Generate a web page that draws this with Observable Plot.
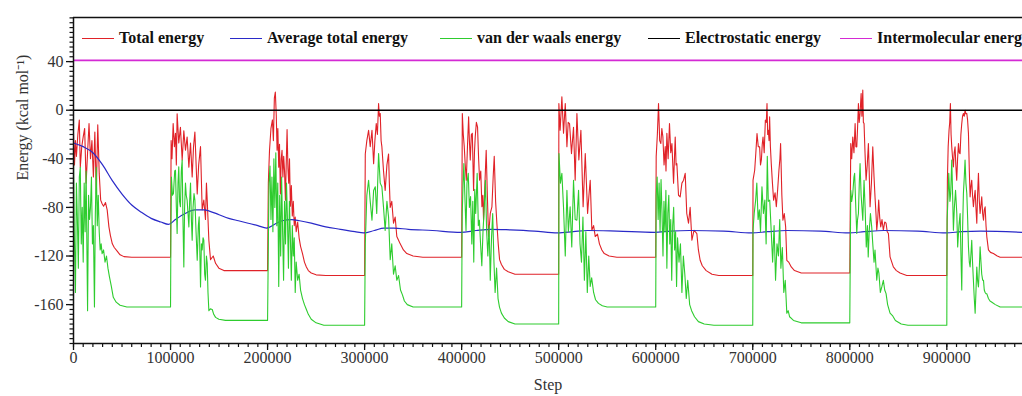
<!DOCTYPE html>
<html>
<head>
<meta charset="utf-8">
<script src="https://cdn.jsdelivr.net/npm/d3@7"></script>
<script src="https://cdn.jsdelivr.net/npm/@observablehq/plot@0.6"></script>
<style>
  html, body { margin: 0; padding: 0; background: #fff; overflow: hidden; }
  #wrap { position: relative; width: 1022px; height: 396px; overflow: hidden; }
  #legend { position: absolute; top: 0; left: 0; width: 1022px; height: 60px; pointer-events: none; }
  .item { position: absolute; top: 29px; display: flex; align-items: center; white-space: nowrap;
          font-family: "Liberation Serif", "Times New Roman", serif; font-weight: bold; font-size: 16px; color: #111; height: 18px; }
  .sw { display: inline-block; width: 32px; height: 0; border-top: 1.5px solid; margin-right: 5px; }
</style>
</head>
<body>
<div id="wrap"><div id="legend"></div></div>
<script>
// ---- Data ----
const seriesNames = ["Total energy", "Average total energy", "van der waals energy", "Electrostatic energy", "Intermolecular energy"];
const seriesColors = ["#e02228", "#2a2ac8", "#2ecc2e", "#000000", "#d42ad4"];

const xTicks = [0, 100000, 200000, 300000, 400000, 500000, 600000, 700000, 800000, 900000];
const yTicks = [-160, -120, -80, -40, 0, 40];
const xDomain = [0, 978000];
const yDomain = [-192, 76.3];

// [step, kcal/mol]
const totalEnergy = [
  [0,-19],[1000,-45],[2000,-25],[3000,-38],[4500,-20],[6000,-8],[7000,-47],[8500,-30],[10000,-22],[11500,-15],[13000,-60],[14500,-35],[16000,-11],[17500,-40],[19000,-25],[20500,-55],[22000,-18],[23500,-69],[25000,-12],[26500,-52],[28000,-74],[29500,-77],[31000,-79],[33000,-76],[34700,-82],[36500,-96],[38000,-103],[40000,-110],[42000,-113],[45000,-116],[48000,-119],[52000,-120.5],[60000,-121],[99500,-121],
  [100000,-121],[100600,-25],[101500,-40],[102700,-11],[104000,-30],[105100,-19],[106000,-45],[106800,-3],[108500,-27],[110200,-14],[112000,-41],[113700,-17],[115400,-33],[117100,-22],[118900,-47],[120600,-27],[122300,-55],[123700,-30],[125100,-18],[127500,-69],[129000,-45],[130900,-30],[132600,-82],[134300,-74],[136000,-90],[137000,-60],[137800,-74],[139500,-107],[141200,-123],[143000,-121],[144000,-120],[146400,-126],[149800,-130],[155000,-132],[199500,-132],
  [200000,-132],[200800,-60],[202000,-33],[203500,-15],[205000,-8],[206000,-25],[207000,10],[208000,15],[209000,-5],[209800,-33],[210600,-15],[211500,-47],[212300,-28],[213200,-69],[214100,-40],[214900,-33],[215800,-55],[216600,-38],[217500,-50],[218400,-74],[219200,-45],[220100,-16],[221000,-48],[221800,-60],[222600,-40],[223500,-79],[224500,-62],[225500,-87],[226500,-75],[227500,-95],[228500,-88],[229500,-100],[231000,-92],[232500,-105],[234000,-112],[236000,-118],[238000,-125],[240000,-129],[242000,-132],[245000,-134],[250000,-135.5],[260000,-136],[299500,-136],
  [300000,-136],[300700,-36],[302300,-25],[304100,-16.5],[305800,-30],[307600,-16.5],[309300,-44],[310600,-25],[312000,-11],[313200,-20],[314400,5.5],[315200,-5],[316100,-2.7],[317000,-25],[317800,-30],[319500,-50],[321200,-66],[323000,-45],[324700,-36],[325500,-60],[326400,-80],[328000,-75],[329800,-93],[331500,-88],[333200,-104],[335000,-107],[336700,-110],[340000,-115],[343500,-118],[350000,-120],[360000,-121],[399500,-121],
  [400000,-121],[400700,-2.7],[401700,-20],[402700,-30],[403700,-45],[404800,-57.6],[406000,-30],[407200,-5.5],[408000,-25],[408900,-41],[410000,-20],[411000,-19],[412300,-66],[413200,-35],[414000,-22],[415200,-10],[416400,-14],[417500,-40],[418500,-57.6],[419700,-50],[420900,-79.5],[421800,-70],[422600,-90.5],[424000,-60],[425300,-33],[426500,-70],[427700,-104],[429500,-85],[431200,-79.5],[432500,-55],[433600,-38],[435000,-75],[436300,-93],[437700,-110],[439100,-123],[441000,-127],[444000,-131],[448000,-133],[455000,-135],[499500,-135],
  [500000,-135],[500200,5.5],[501500,-16.5],[503300,11],[505000,-19],[506800,5.5],[508500,-30],[509800,-10],[511200,-11],[513200,-35.7],[515300,-14],[517000,-57.6],[518800,-2.7],[520800,-41],[522900,-16.5],[525200,-79.5],[527400,-35.7],[528600,-60],[529800,-85],[531200,-70],[532500,-57.6],[534200,-98.8],[536000,-95],[537700,-104],[540000,-102],[542000,-110],[544500,-115],[547000,-118],[552000,-120],[560000,-121],[599500,-121],
  [600000,-121],[600500,-38],[601700,-20],[602900,5.5],[604100,-25],[605300,-27.4],[606300,-15],[607400,-22],[608600,-45],[609800,-30],[610600,-50],[611500,-19],[612800,-40],[614200,-11],[615500,-35],[616700,-27.4],[618400,-60],[620100,-22],[621000,-45],[621800,-44],[623500,-70],[625200,-71.3],[627000,-60],[628700,-57.6],[630400,-52],[632000,-85],[633800,-93],[635500,-80],[637300,-107],[639500,-98.8],[642400,-101.5],[644000,-115],[645800,-123.5],[648000,-128],[652000,-132],[658000,-135],[665000,-136],[699500,-136],
  [700000,-136],[700300,-57.6],[702000,-49.4],[703200,-35],[704400,-19.2],[705700,-30],[707100,-30.2],[708000,-45],[708900,-41],[709800,-28],[710600,-22],[711800,-35],[713000,-8.2],[714000,-10],[714700,5.5],[715400,-20],[716100,-16.5],[716800,-25],[717400,-5.5],[718200,-30],[719100,-44],[720300,-60],[721500,-74],[723000,-68],[724300,-79.5],[725700,-65],[727000,-49.4],[728000,-40],[728700,-27.4],[730000,-70],[731100,-90.5],[732500,-85],[733900,-96],[735100,-123.5],[737000,-125],[739700,-129],[743000,-132],[750000,-134],[799500,-134],
  [800000,-134],[801000,-27.4],[802000,-40],[803100,-22],[804300,-35],[805500,-11],[806300,-30],[807200,-30.2],[808000,-15],[808900,5.5],[809700,-10],[810600,-2.7],[811700,13.7],[812500,-5],[813400,16.5],[814000,-10],[814700,-11],[815700,-35],[816800,-57.6],[818000,-45],[819200,-27.4],[820000,-50],[820900,-79.5],[822300,-60],[823700,-30.2],[825000,-55],[826000,-71.3],[827000,-85],[827800,-98.8],[828800,-90],[829800,-74],[830800,-88],[831900,-96],[833200,-90],[834600,-98.8],[836000,-92],[837400,-93],[838600,-100],[839800,-101.5],[841500,-120.7],[844900,-129],[848000,-132],[851800,-134],[858700,-136],[899500,-136],
  [900000,-136],[900600,-57.6],[901400,-30],[902300,-16.5],[903000,-10],[903700,5.5],[904400,-20],[905100,-30.2],[906000,-40],[906800,-46.6],[907600,-35],[908500,-30.2],[909300,-45],[910200,-57.6],[911100,-40],[912000,-27.4],[912800,-35],[913700,-35.7],[914500,-20],[915400,-11],[916200,-5],[917100,-2.7],[918000,-5],[918800,0],[919700,-3],[920600,-2.7],[921400,-8],[922300,-19.2],[923200,-50],[924000,-71.3],[924900,-62],[925700,-57.6],[926500,-70],[927400,-79.5],[928300,-72],[929200,-66],[930000,-80],[930900,-93],[931700,-70],[932600,-52],[933500,-75],[934300,-85],[935200,-78],[936000,-71.3],[936900,-85],[937800,-90.5],[938600,-82],[939500,-79.5],[940400,-95],[941200,-104],[942900,-115],[945000,-117],[948000,-118],[952000,-120],[955000,-121],[978000,-121]
];

const averageTotalEnergy = [
  [0,-27],[10000,-30],[20000,-35],[30000,-45],[40000,-58],[50000,-69],[60000,-78],[70000,-84],[80000,-89],[90000,-92],[98000,-94],[105000,-90],[115000,-85],[125000,-82],[135000,-82],[140000,-83],[150000,-86],[160000,-89],[170000,-91],[180000,-93],[190000,-95],[199000,-97],[207000,-94],[215000,-91],[225000,-90],[233000,-91],[245000,-93],[260000,-96],[275000,-98],[290000,-100],[299000,-101],[310000,-99],[320000,-97],[330000,-97],[345000,-98],[370000,-99],[399000,-100.5],[415000,-99],[430000,-98],[450000,-98.5],[475000,-99.5],[499000,-101],[515000,-100],[530000,-99],[560000,-99.5],[599000,-100.5],[615000,-99.5],[635000,-99],[670000,-99.5],[699000,-101],[715000,-100],[735000,-99],[770000,-99.5],[799000,-101],[815000,-100],[835000,-99],[870000,-99.5],[899000,-101],[915000,-100],[935000,-99.5],[978000,-100.5]
];

const vdwEnergy = [
  [0,-40],[800,-100],[2000,-150],[3000,-60],[4000,-90],[5000,-130],[6000,-55],[7000,-47],[8000,-110],[9000,-80],[10000,-125],[11000,-60],[12000,-100],[13000,-50],[14500,-165],[15500,-70],[16500,-90],[17500,-80],[18500,-55],[19500,-110],[20500,-95],[21600,-162],[22500,-85],[23500,-47],[24500,-95],[25500,-70],[26500,-100],[27500,-115],[28500,-110],[29500,-118],[31000,-115],[32500,-125],[34000,-120],[35500,-130],[37000,-137],[39000,-145],[41000,-154],[44000,-158],[48000,-160.5],[55000,-162],[99500,-162],
  [100000,-162],[100400,-100],[100900,-55],[102000,-70],[103000,-68.6],[104300,-50],[105100,-49.4],[106000,-80],[106800,-101.5],[107700,-60],[108500,-46.6],[109300,-75],[110200,-79.5],[111100,-50],[112000,-41],[112800,-90],[113700,-129],[114500,-80],[115400,-60],[116200,-70],[117100,-74],[118000,-85],[118900,-96],[119700,-75],[120600,-60],[121500,-90],[122300,-107],[123200,-80],[124200,-68.6],[125100,-74],[126300,-100],[127500,-123.5],[128700,-95],[129500,-87.8],[130900,-145.4],[131800,-110],[132600,-115],[133500,-105],[134300,-107],[135200,-135],[136000,-140],[137000,-120],[137800,-126],[138600,-150],[139500,-165],[141000,-163.5],[143000,-164],[144500,-168],[146400,-170.5],[149800,-172],[156600,-173],[199500,-173],
  [200000,-173],[200800,-110],[201500,-60],[202500,-46],[203500,-90],[204500,-55],[205500,-100],[206500,-40],[207500,-80],[208500,-35],[209500,-95],[210500,-60],[211500,-145],[212500,-70],[213500,-120],[214500,-55],[215500,-100],[216500,-140],[217500,-75],[218500,-110],[219500,-60],[220500,-90],[221500,-130],[222500,-75],[223500,-105],[224500,-140],[225500,-95],[226500,-120],[227500,-105],[228500,-150],[229500,-125],[231000,-140],[232500,-135],[234000,-148],[236000,-155],[238000,-160],[240000,-164],[242000,-168],[245000,-172],[250000,-175],[258000,-177],[299500,-177],
  [300000,-177],[300700,-110],[302300,-70],[304100,-57.6],[305800,-75],[307600,-90.5],[309300,-66],[311000,-63],[312500,-85],[314400,-35.7],[316100,-60],[317800,-63],[319500,-80],[321200,-99],[323000,-75],[324700,-88],[326400,-123],[328000,-110],[329800,-135],[331500,-128],[333200,-140],[335000,-136],[337000,-148],[339000,-152],[341000,-157],[344000,-160],[350000,-162],[399500,-162],
  [400000,-162],[400600,-85],[401500,-60],[402300,-44],[403300,-70],[404500,-99],[405500,-60],[406800,-52],[408000,-80],[409200,-71],[410500,-110],[411500,-75],[412500,-125],[413500,-65],[414500,-85],[416000,-52],[417200,-95],[418300,-90.5],[419500,-110],[420800,-128],[422000,-100],[423000,-85],[424500,-57.6],[425800,-100],[427000,-120],[428300,-95],[429500,-140],[430800,-105],[432000,-85],[433300,-125],[434500,-150],[436000,-130],[437500,-155],[439000,-162],[441000,-167],[444000,-171],[448000,-174],[455000,-176],[499500,-176],
  [500000,-176],[500300,-35.7],[501800,-60],[503300,-52],[505000,-80],[506800,-120],[508500,-66],[510000,-100],[511800,-79.5],[513500,-112.5],[515300,-57.6],[517000,-90],[518800,-90.5],[520500,-66],[522000,-110],[523500,-125],[525000,-88],[526500,-140],[528000,-100],[529500,-150],[531000,-120],[532500,-145],[534000,-138],[536000,-150],[538000,-156],[541000,-159],[545000,-161],[550000,-162],[599500,-162],
  [600000,-162],[600500,-70],[601500,-55],[602500,-90],[603500,-60],[604500,-100],[605500,-57],[606500,-85],[607500,-120],[608500,-75],[609500,-100],[610500,-66],[611500,-130],[612500,-85],[613500,-70],[614500,-110],[615500,-90],[616500,-140],[617500,-95],[618500,-80],[619500,-115],[620500,-100],[621500,-145],[622500,-105],[624000,-125],[625500,-110],[627000,-150],[628500,-120],[630000,-135],[631500,-155],[633000,-140],[635000,-160],[637000,-165],[640000,-170],[644000,-174],[650000,-176],[660000,-177],[699500,-177],
  [700000,-177],[700300,-98.8],[701500,-85],[703000,-74],[704200,-60],[705500,-90],[706800,-82],[708000,-100],[709500,-63],[711000,-85],[712500,-74],[713800,-110],[715000,-38],[716000,-75],[717500,-74],[719000,-98.8],[720500,-125],[722000,-95],[723500,-140],[725000,-110],[726500,-120],[727800,-90],[729000,-130],[730500,-113],[732000,-150],[733500,-140],[735100,-167],[736500,-165],[738000,-170],[742000,-173],[750000,-175],[799500,-175],
  [800000,-175],[801000,-66],[802000,-75],[803100,-68.6],[804300,-55],[805000,-52],[806200,-80],[807200,-101.5],[808000,-90],[808900,-85],[809800,-60],[810600,-44],[811700,-70],[813400,-90.5],[814700,-57.6],[815800,-80],[817000,-112.5],[818200,-95],[819000,-120.7],[820000,-100],[821300,-85],[822600,-96],[823700,-110],[825000,-125],[826000,-115],[827800,-140],[829000,-130],[830000,-134],[831500,-150],[833000,-145.4],[834600,-140],[836000,-148],[837400,-151],[839000,-160],[841500,-167],[844000,-169],[847000,-173],[853000,-176],[860000,-177],[899500,-177],
  [900000,-177],[900300,-90.5],[901300,-70],[902000,-52],[903200,-75],[904000,-68.6],[905100,-41],[906000,-70],[906800,-98.8],[907800,-80],[909000,-66],[910300,-85],[911200,-112.5],[912500,-95],[913700,-85],[914600,-120],[915400,-148],[916200,-100],[917100,-68.6],[918000,-55],[918800,-41],[919700,-60],[920600,-68.6],[921500,-90],[922300,-112.5],[923200,-125],[924000,-129],[924900,-118],[925700,-107],[926500,-125],[927400,-140],[928300,-155],[929200,-167],[930000,-150],[930900,-129],[931700,-140],[932600,-145.4],[933500,-130],[934300,-112.5],[935200,-125],[936000,-135],[937000,-140],[937800,-140],[938600,-148],[939500,-150],[940400,-151],[941200,-151],[942900,-155],[944500,-157],[946500,-158],[950000,-160],[955000,-162],[978000,-162]
];

const electrostaticEnergy = [0];
const intermolecularEnergy = [41];

// ---- Chart ----
const fmt = d => `${d}`;
const blank = () => "";
const xMinor = d3.range(0, 978001, 10000);
const yMinor = d3.range(-192, 77, 4);
const font = "'Liberation Serif', 'Times New Roman', serif";
const X = d => d[0], Y = d => d[1];

const chart = Plot.plot({
  width: 1022,
  height: 396,
  marginLeft: 73,
  marginRight: 0,
  marginTop: 17,
  marginBottom: 53,
  x: {domain: xDomain},
  y: {domain: yDomain},
  style: {fontFamily: font, fontSize: "16px", background: "white", color: "#222"},
  marks: [
    Plot.line(totalEnergy, {x: X, y: Y, stroke: seriesColors[0], strokeWidth: 1.1, clip: true}),
    Plot.line(averageTotalEnergy, {x: X, y: Y, stroke: seriesColors[1], strokeWidth: 1.2, curve: "monotone-x", clip: true}),
    Plot.line(vdwEnergy, {x: X, y: Y, stroke: seriesColors[2], strokeWidth: 1.1, clip: true}),
    Plot.ruleY(electrostaticEnergy, {stroke: seriesColors[3], strokeWidth: 1.5}),
    Plot.ruleY(intermolecularEnergy, {stroke: seriesColors[4], strokeWidth: 1.8}),
    Plot.axisX(xMinor, {tickSize: 4, tickFormat: blank, label: null, stroke: "#111", strokeWidth: 1.2}),
    Plot.axisX(xTicks, {tickSize: 7, tickPadding: 1, tickFormat: fmt, label: null, stroke: "#111", strokeWidth: 1.3, fontSize: 16, fill: "#333"}),
    Plot.axisY(yMinor, {tickSize: 3.5, tickFormat: blank, label: null, stroke: "#111", strokeWidth: 1.2}),
    Plot.axisY(yTicks, {tickSize: 7, tickPadding: 3, tickFormat: fmt, label: null, stroke: "#111", strokeWidth: 1.3, fontSize: 16, fill: "#333"}),
    Plot.ruleX([xDomain[0]], {stroke: "#111", strokeWidth: 1.5}),
    Plot.ruleY(yDomain, {stroke: "#111", strokeWidth: 1.5}),
    Plot.text(["Step"], {frameAnchor: "bottom", dy: 46, fontSize: 16, fill: "#333"}),
    Plot.text(["Energy (kcal mol⁻¹)"], {frameAnchor: "left", dx: -51, rotate: -90, fontSize: 16, fill: "#333"})
  ]
});

const wrap = document.getElementById("wrap");
wrap.insertBefore(chart, wrap.firstChild);

// ---- Legend (inside plot, top) ----
const legendLeft = [82, 230, 440, 648, 840];
const legend = document.getElementById("legend");
seriesNames.forEach((name, i) => {
  const item = document.createElement("div");
  item.className = "item";
  item.style.left = legendLeft[i] + "px";
  const sw = document.createElement("span");
  sw.className = "sw";
  sw.style.borderTopColor = seriesColors[i];
  const t = document.createElement("span");
  t.textContent = name;
  item.appendChild(sw);
  item.appendChild(t);
  legend.appendChild(item);
});
</script>
</body>
</html>
